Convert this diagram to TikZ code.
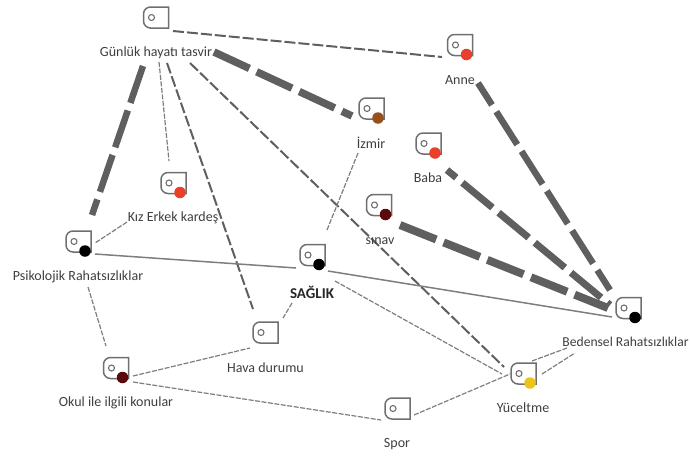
\documentclass[tikz,border=0pt]{standalone}
\usepackage{fontspec}
\setmainfont{Carlito}
\usetikzlibrary{calc}
\definecolor{edgegray}{HTML}{5F5F5F}
\definecolor{thingray}{HTML}{7E7E7E}
\definecolor{txtgray}{HTML}{3F3F3F}
\definecolor{dotred}{HTML}{E8402A}
\definecolor{dotbrown}{HTML}{96501E}
\definecolor{dotmaroon}{HTML}{5A0A0A}
\definecolor{dotyellow}{HTML}{F0C318}
\tikzset{
  iconbox/.style={rectangle,minimum width=25pt,minimum height=21pt,inner sep=0pt,outer sep=0pt},
  iconline/.style={draw=edgegray!90,line width=1.5pt},
  iconhole/.style={circle,draw=edgegray!90,line width=1.1pt,minimum size=6pt,inner sep=0pt},
  icondot/.style={circle,minimum size=11.5pt,inner sep=0pt},
  lab/.style={text=txtgray,font=\fontsize{14}{16}\selectfont,inner sep=0pt},
  heavy/.style={draw=edgegray,line width=#1,dash pattern=on 39pt off 8pt},
  medium/.style={draw=edgegray,line width=2pt,dash pattern=on 11pt off 3pt},
  light/.style={draw=thingray,line width=1.2pt,dash pattern=on 5pt off 1.5pt},
  plainline/.style={draw=thingray,line width=1.5pt},
}
\newcommand{\iconat}[3]{%
  \node[iconbox] (#1) at (#2,#3) {};
  \draw[iconline] (#1.north east) [rounded corners=7pt] -- (#1.north west) -- (#1.south west) [sharp corners] -- (#1.south east) -- cycle;
  \node[iconhole] (#1h) at ($(#1)+(-4.5,0)$) {};
}
\newcommand{\icondotat}[2]{\node[icondot,fill=#2] (#1d) at ($(#1)+(6.5,9.5)$) {};}
\begin{document}
\begin{tikzpicture}[x=1pt,y=-1pt]
\useasboundingbox (0,0) rectangle (690,456);
\iconat{g}{156}{17.5}
\iconat{an}{460}{45}
\iconat{iz}{371.5}{108.5}
\iconat{ba}{428.5}{143.5}
\iconat{si}{379}{205}
\iconat{ki}{173.5}{183}
\iconat{pr}{78.5}{241.5}
\iconat{sa}{312.5}{255}
\iconat{ha}{265.5}{332.5}
\iconat{ok}{116}{368}
\iconat{be}{628.5}{308}
\iconat{yu}{523.5}{373.5}
\iconat{sp}{397.5}{408.5}
% connectors
\draw[heavy=7.5pt] ($(g)+(58,34.5)$) -- ($(iz)+(-19.5,7.5)$);
\draw[heavy=6.5pt] ($(g)+(-13,48.5)$) -- ($(pr)+(13.5,-26.5)$);
\draw[medium] ($(g)+(17,13.5)$) -- ($(an)+(-18,12)$);
\draw[light] ($(g)+(3,44.5)$) -- ($(ki)+(-4.5,-22)$);
\draw[medium] ($(g)+(11,45.5)$) -- ($(ha)+(-12.5,-23.5)$);
\draw[medium] ($(g)+(34,45.5)$) -- ($(yu)+(-19.5,-6.5)$);
\draw[light] ($(iz)+(-13.5,44.5)$) -- ($(sa)+(14.5,-25)$);
\draw[light] ($(ki)+(-46.5,39)$) -- ($(pr)+(16.5,1.5)$);
\draw[plainline] ($(pr)+(16.5,12.5)$) -- ($(sa)+(-16.5,13)$);
\draw[plainline] ($(sa)+(15.5,16)$) -- ($(be)+(-16.5,9)$);
\draw[light] ($(sa)+(22.5,26)$) -- ($(yu)+(-21.5,0.5)$);
\draw[light] ($(sa)+(-20.5,48)$) -- ($(ha)+(17.5,-14.5)$);
\draw[light] ($(pr)+(9.5,45.5)$) -- ($(ok)+(-10,-22)$);
\draw[light] ($(ok)+(17,8)$) -- ($(ha)+(-15.5,15.5)$);
\draw[light] ($(ok)+(17,14)$) -- ($(sp)+(-16.5,11.5)$);
\draw[light] ($(sp)+(16.5,6.5)$) -- ($(yu)+(-13.5,0.5)$);
\draw[light] ($(yu)+(8.5,-12.5)$) -- ($(be)+(-61.5,40)$);
\draw[light] ($(yu)+(18.5,0.5)$) -- ($(be)+(-53.5,45)$);
\draw[heavy=6.5pt,dash phase=13pt] ($(an)+(18,38)$) -- ($(be)+(-18.5,-18)$);
\draw[heavy=7pt,dash phase=27pt] ($(ba)+(18.5,26.5)$) -- ($(be)+(-18.5,-3)$);
\draw[heavy=8pt] ($(si)+(21,20)$) -- ($(be)+(-20.5,0)$);
% dots and labels
\icondotat{an}{dotred}
\icondotat{iz}{dotbrown}
\icondotat{ba}{dotred}
\icondotat{si}{dotmaroon}
\icondotat{ki}{dotred}
\icondotat{pr}{black}
\icondotat{sa}{black}
\icondotat{ok}{dotmaroon}
\icondotat{be}{black}
\icondotat{yu}{dotyellow}
\node[lab] (tg) at (156,53) {Günlük hayatı tasvir};
\node[lab] (tan) at (460,80) {Anne};
\node[lab] (tiz) at (371,143) {İzmir};
\node[lab] (tba) at (428,178) {Baba};
\node[lab] (tsi) at (380,241) {sınav};
\node[lab] (tki) at (173,218) {Kız Erkek kardeş};
\node[lab] (tpr) at (78,277) {Psikolojik Rahatsızlıklar};
\node[lab,font=\fontsize{15}{17}\selectfont\bfseries,text=black!85] (tsa) at (312,292) {SAĞLIK};
\node[lab] (tha) at (265.5,368) {Hava durumu};
\node[lab] (tok) at (116,403) {Okul ile ilgili konular};
\node[lab,font=\fontsize{13.6}{16}\selectfont] (tbe) at (625.5,342) {Bedensel Rahatsızlıklar};
\node[lab] (tyu) at (523,408) {Yüceltme};
\node[lab] (tsp) at (397,444) {Spor};
\end{tikzpicture}
\end{document}
